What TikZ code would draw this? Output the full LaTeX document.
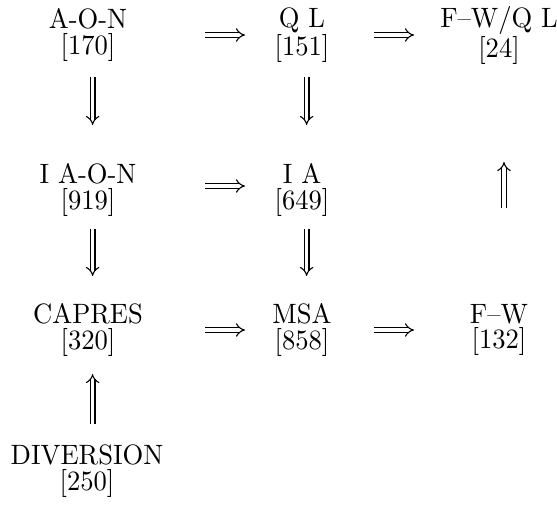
\documentclass[tikz,border=0pt]{standalone}
\usepackage{fontspec}
\usetikzlibrary{arrows.meta}
\newfontfamily\lblfont{lmroman10-regular}[Extension=.otf, FakeStretch=0.95]
\begin{document}
\begin{tikzpicture}[x=0.5pt,y=-0.5pt,
  lbl/.style={align=center, inner sep=0pt,
              font=\lblfont\fontsize{14pt}{12.75pt}\selectfont},
  imp/.style={double, double distance=1.8pt, line width=0.55pt, -{Implies}},
]
\useasboundingbox (0,0) rectangle (557,511);

% states with their counts
\node[lbl] (aon)    at (88,35)   {A-O-N\\{[170]}};
\node[lbl] (ql)     at (302,35)  {Q L\\{[151]}};
\node[lbl] (fwql)   at (499,35)  {F–W/Q L\\{[24]}};
\node[lbl] (iaon)   at (88,190)  {I A-O-N\\{[919]}};
\node[lbl] (ia)     at (302,190) {I A\\{[649]}};
\node[lbl] (capres) at (88,330)  {CAPRES\\{[320]}};
\node[lbl] (msa)    at (302,330) {MSA\\{[858]}};
\node[lbl] (fw)     at (499,330) {F–W\\{[132]}};
\node[lbl] (div)    at (87,471)  {DIVERSION\\{[250]}};

% horizontal implications
\draw[imp, shorten <=58.5pt, shorten >=28.5pt] (aon.center) -- (ql.center);
\draw[imp, shorten <=36pt, shorten >=42.5pt] (ql.center) -- (fwql.center);
\draw[imp, shorten <=58.5pt, shorten >=28.5pt] ([yshift=2pt]iaon.center) -- ([yshift=2pt]ia.center);
\draw[imp, shorten <=58.5pt, shorten >=28.5pt] (capres.center) -- (msa.center);
\draw[imp, shorten <=36pt, shorten >=42.5pt] (msa.center) -- (fw.center);

% vertical implications
\draw[imp, shorten <=21pt, shorten >=32.5pt] ([xshift=2.3pt]aon.center) -- ([xshift=2.3pt]iaon.center);
\draw[imp, shorten <=21pt, shorten >=32.5pt] ([xshift=2.3pt]ql.center) -- ([xshift=2.3pt]ia.center);
\draw[imp, shorten <=19.5pt, shorten >=27pt] ([xshift=2.3pt]iaon.center) -- ([xshift=2.3pt]capres.center);
\draw[imp, shorten <=19.5pt, shorten >=27pt] ([xshift=2.3pt]ia.center) -- ([xshift=2.3pt]msa.center);
\draw[imp, shorten <=23.5pt, shorten >=22pt] ([xshift=2.3pt]capres.center |- div.center) -- ([xshift=2.3pt]capres.center);
\draw[imp, shorten <=61pt, shorten >=63.5pt] ([xshift=2.5pt]fw.center) -- ([xshift=2.5pt]fwql.center);
\end{tikzpicture}
\end{document}
